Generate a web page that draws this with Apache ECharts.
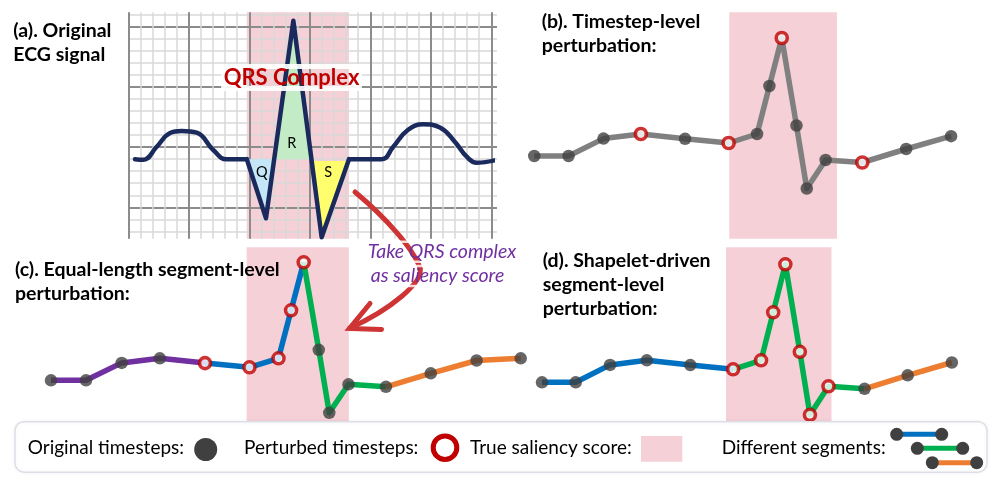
<!DOCTYPE html>
<html><head><meta charset="utf-8">
<script src="https://cdn.jsdelivr.net/npm/echarts@6/dist/echarts.min.js"></script>
<style>html,body{margin:0;padding:0;background:#fff}#main{width:997px;height:479px}</style>
</head><body><div id="main"></div>
<script>
// ---------- data ----------
// shared timestep positions and signal values of the toy series (panels b, c, d)
const timeSteps = [0, 1, 2.02, 3.11, 4.4, 5.67, 6.5, 6.86, 7.22, 7.65, 7.95, 8.5, 9.57, 10.85, 12.16, 13.42];
const signal    = [0, 0, 1.74, 2.2, 1.72, 1.3, 2.2, 7.0, 11.8, 3.05, -3.25, -0.4, -0.65, 0.7, 1.98, 2.2];

// perturbed timestep indices
const perturbedB = [3, 5, 8, 12];
const perturbedC = [4, 5, 6, 7, 8];
const perturbedD = [5, 6, 7, 8, 9, 10, 11];

// segments (start index, end index)
const segmentsB = [[0, 14]];
const segmentsC = [[0, 4], [4, 8], [8, 12], [12, 15]];
const segmentsD = [[0, 5], [5, 12], [12, 14]];

// true saliency (QRS) window, in timestep units
const saliencyB = [5.69, 8.83];
const saliencyC = [5.59, 8.51];
const saliencyD = [5.46, 8.59];

// ECG signal for panel (a), in ECG-paper small-box units
const ecgP   = [[0.55, 4.0], [1.24, 3.95], [2.35, 5.03], [3.45, 6.17], [4.41, 6.34], [5.65, 6.2], [7.02, 4.76], [8.13, 3.99], [9.79, 4.0]];
const ecgQRS = [[9.79, 4.0], [11.38, -0.91], [13.64, 15.5], [15.98, -2.49], [18.24, 4.0]];
const ecgT   = [[18.24, 4.0], [20.94, 4.0], [21.9, 5.03], [23.1, 6.42], [24.38, 6.89], [25.76, 6.63], [27.0, 5.42], [27.97, 4.2], [28.8, 3.7], [30.64, 4.0]];
const qWave = [[9.79, 4.0], [11.38, -0.91], [12.06, 4.0]];
const rWave = [[12.06, 4.0], [13.64, 15.5], [15.14, 4.0]];
const sWave = [[15.16, 3.85], [15.98, -2.49], [18.19, 3.85]];
const saliencyA = [9.79, 18.24];

// ---------- styles ----------
const PINK = '#F5D0D7';
const DARK = '#404040';
const RED = '#C00000';
const SEG_COLORS = {purple: '#7030A0', blue: '#0070C0', green: '#00B050', orange: '#ED7D31', gray: '#808080'};
const segColorsB = ['gray'];
const segColorsC = ['purple', 'blue', 'green', 'orange'];
const segColorsD = ['blue', 'green', 'orange'];
const FONT = 'Lato, "Open Sans", sans-serif';
const MINOR = '#D9D9D9', MAJOR = '#8C8C8C';

const PX_T = 35, PX_S = 10;
const panels = [
  {key: 'b', x0: 535, y0: 156, xMin: -1, xMax: 13.5, yMin: -8.27, yMax: 14.37, n: 15, pert: perturbedB, segs: segmentsB, cols: segColorsB, sal: saliencyB},
  {key: 'c', x0: 51, y0: 380.3, xMin: -1, xMax: 14, yMin: -4.5, yMax: 13.3, n: 16, pert: perturbedC, segs: segmentsC, cols: segColorsC, sal: saliencyC},
  {key: 'd', x0: 543.3, y0: 382.3, xMin: -1, xMax: 13.5, yMin: -4.5, yMax: 13.5, n: 15, pert: perturbedD, segs: segmentsD, cols: segColorsD, sal: saliencyD}
];

// ---------- paper (panel a) ----------
const paper = {left: 128.3, top: 12.3, right: 497, bottom: 238.7};
const grids = [
  {left: paper.left, top: paper.top, width: 363, height: paper.bottom - paper.top},   // 0: verticals + ECG
  {left: paper.left, top: 14.7, width: paper.right - paper.left, height: 216.7},       // 1: horizontal minor
  {left: paper.left, top: 26.7, width: paper.right - paper.left, height: 180.6}        // 2: horizontal major
];
const hidden = {axisLine: {show: false}, axisTick: {show: false}, axisLabel: {show: false}};
const xAxes = [
  Object.assign({type: 'value', gridIndex: 0, min: 0, max: 30, interval: 1, position: 'bottom', z: 1,
    splitLine: {show: true, lineStyle: {color: MINOR, width: 1.5}}}, hidden),
  Object.assign({type: 'value', gridIndex: 0, min: 0, max: 30, interval: 5, position: 'top', z: 1,
    splitLine: {show: true, lineStyle: {color: MAJOR, width: 2}}}, hidden),
  {type: 'value', gridIndex: 1, min: 0, max: 1, show: false},
  {type: 'value', gridIndex: 2, min: 0, max: 1, show: false}
];
const yAxes = [
  {type: 'value', gridIndex: 0, min: -2.61, max: 16.2, show: false},
  Object.assign({type: 'value', gridIndex: 1, min: -2, max: 16, interval: 1, z: 1,
    splitLine: {show: true, lineStyle: {color: MINOR, width: 1.5}}}, hidden),
  Object.assign({type: 'value', gridIndex: 2, min: 0, max: 15, interval: 5, z: 1,
    splitLine: {show: true, lineStyle: {color: MAJOR, width: 2}}}, hidden)
];

function bandRender(params, api) {
  const x1 = api.coord([api.value(0), 0])[0];
  const x2 = api.coord([api.value(1), 0])[0];
  const cs = params.coordSys;
  return {type: 'rect', shape: {x: x1, y: cs.y, width: x2 - x1, height: cs.height}, style: {fill: PINK}};
}

const series = [];
series.push({type: 'custom', xAxisIndex: 0, yAxisIndex: 0, z: 0, silent: true,
  renderItem: bandRender, data: [saliencyA], encode: {x: [0, 1]}});

const waveFills = [[qWave, '#C4E6F6'], [rWave, '#C3EBC5'], [sWave, '#FFFF6E']];
series.push({type: 'custom', xAxisIndex: 0, yAxisIndex: 0, z: 2, silent: true,
  data: waveFills.map((w, i) => [i]),
  renderItem: function (params, api) {
    const w = waveFills[api.value(0)];
    return {type: 'polygon', shape: {points: w[0].map(p => api.coord(p))}, style: {fill: w[1]}};
  }});
const ecgLine = {color: '#1B2A5C', width: 4.5, cap: 'round', join: 'round'};
series.push({type: 'line', xAxisIndex: 0, yAxisIndex: 0, z: 3, data: ecgP, smooth: 0.45, showSymbol: false, clip: false, lineStyle: ecgLine, silent: true});
series.push({type: 'line', xAxisIndex: 0, yAxisIndex: 0, z: 3, data: ecgQRS, smooth: false, showSymbol: false, clip: false, lineStyle: ecgLine, silent: true});
series.push({type: 'line', xAxisIndex: 0, yAxisIndex: 0, z: 3, data: ecgT, smooth: 0.45, showSymbol: false, clip: false, lineStyle: ecgLine, silent: true});

// ---------- panels b, c, d ----------
panels.forEach((p) => {
  const gi = grids.length;
  grids.push({left: p.x0 + p.xMin * PX_T, top: p.y0 - p.yMax * PX_S,
              width: (p.xMax - p.xMin) * PX_T, height: (p.yMax - p.yMin) * PX_S});
  const xi = xAxes.length, yi = yAxes.length;
  xAxes.push({type: 'value', gridIndex: gi, min: p.xMin, max: p.xMax, show: false});
  yAxes.push({type: 'value', gridIndex: gi, min: p.yMin, max: p.yMax, show: false});
  const pts = timeSteps.slice(0, p.n).map((t, i) => [t, signal[i]]);
  series.push({type: 'custom', xAxisIndex: xi, yAxisIndex: yi, z: 0, silent: true,
    renderItem: bandRender, data: [p.sal], encode: {x: [0, 1]}});
  p.segs.forEach((s, k) => {
    series.push({type: 'line', xAxisIndex: xi, yAxisIndex: yi, z: 2, silent: true, clip: false,
      data: pts.slice(s[0], s[1] + 1), showSymbol: false,
      lineStyle: {color: SEG_COLORS[p.cols[k]], width: 5.5, cap: 'butt', join: 'round'}});
  });
  series.push({type: 'scatter', xAxisIndex: xi, yAxisIndex: yi, z: 4, silent: true, clip: false,
    data: pts.filter((d, i) => p.pert.indexOf(i) < 0), symbol: 'circle', symbolSize: 12.5,
    itemStyle: {color: DARK}});
  series.push({type: 'scatter', xAxisIndex: xi, yAxisIndex: yi, z: 4, silent: true, clip: false,
    data: pts.filter((d, i) => p.pert.indexOf(i) >= 0), symbol: 'circle', symbolSize: 11,
    itemStyle: {color: '#fff', borderColor: RED, borderWidth: 3.6}});
});

// ---------- text & decorations ----------
function txt(text, x, y, size, opts) {
  opts = opts || {};
  return {type: 'text', x: x, y: y, z: opts.z || 60, zlevel: 1,
    style: Object.assign({text: text, font: (opts.style || '') + ' ' + (opts.weight || 'normal') + ' ' + size + 'px ' + FONT,
      fill: opts.color || '#000', textAlign: opts.align || 'left', textVerticalAlign: 'middle'}, opts.extra || {})};
}
const TB = {weight: 'bold'};
const ARROW = '#CF3434';
const LEG = 19;
const elements = [
  txt('(a). Original', 13.3, 30.8, 19.5, TB),
  txt('ECG signal', 13.3, 54.5, 19.5, TB),
  txt('(b). Timestep-level', 541.7, 21.7, 19.5, TB),
  txt('perturbation:', 541.7, 45.5, 19.5, TB),
  txt('(c). Equal-length segment-level', 15, 269.3, 19.5, TB),
  txt('perturbation:', 15, 293.3, 19.5, TB),
  txt('(d). Shapelet-driven', 542.7, 260.7, 19.5, TB),
  txt('segment-level', 542.7, 284.5, 19.5, TB),
  txt('perturbation:', 542.7, 308.3, 19.5, TB),
  txt('QRS Complex', 291.5, 77.5, 22, {weight: 'bold', color: RED, align: 'center',
    extra: {textBorderColor: 'rgba(255,255,255,0.92)', textBorderWidth: 5}}),
  txt('Q', 261.7, 172.7, 14.5, {align: 'center'}),
  txt('R', 291.7, 143.3, 14.5, {align: 'center'}),
  txt('S', 328.3, 172.7, 14.5, {align: 'center'}),
  // arrow
  {type: 'bezierCurve', z: 50, zlevel: 1, shape: {x1: 355, y1: 192, cpx1: 385, cpy1: 217, cpx2: 413, cpy2: 248, x2: 420, y2: 268},
    style: {fill: null, stroke: ARROW, lineWidth: 5, lineCap: 'round'}},
  {type: 'bezierCurve', z: 50, zlevel: 1, shape: {x1: 420, y1: 268, cpx1: 424, cpy1: 282, cpx2: 390, cpy2: 310, x2: 350, y2: 328},
    style: {fill: null, stroke: ARROW, lineWidth: 5, lineCap: 'round'}},
  {type: 'polyline', z: 50, zlevel: 1, shape: {points: [[370, 303.5], [349.5, 328.5], [381.5, 329.5]]},
    style: {fill: null, stroke: ARROW, lineWidth: 5, lineCap: 'round', lineJoin: 'miter'}},
  txt('Take QRS complex', 367.7, 251.7, 19.5, {style: 'italic', color: '#7030A0',
    extra: {textBorderColor: 'rgba(255,255,255,0.8)', textBorderWidth: 2.5}}),
  txt('as saliency score', 370.7, 276, 19.5, {style: 'italic', color: '#7030A0',
    extra: {textBorderColor: 'rgba(255,255,255,0.8)', textBorderWidth: 2.5}}),
  // legend box
  {type: 'rect', z: 100, zlevel: 1, shape: {x: 15, y: 421.7, width: 972, height: 50.5, r: 9},
    style: {fill: '#fff', stroke: '#DCDFE7', lineWidth: 1.5, shadowBlur: 4, shadowColor: 'rgba(0,0,0,0.06)'}},
  txt('Original timesteps:', 27.7, 448.3, LEG, {z: 101}),
  {type: 'circle', z: 101, zlevel: 1, shape: {cx: 205.7, cy: 449.5, r: 11.5}, style: {fill: DARK}},
  txt('Perturbed timesteps:', 244, 448.3, LEG, {z: 101}),
  {type: 'circle', z: 101, zlevel: 1, shape: {cx: 445, cy: 447.7, r: 11.8}, style: {fill: '#fff', stroke: RED, lineWidth: 5}},
  txt('True saliency score:', 470, 448.3, LEG, {z: 101}),
  {type: 'rect', z: 101, zlevel: 1, shape: {x: 641, y: 436, width: 41.3, height: 25.7}, style: {fill: PINK}},
  txt('Different segments:', 721.7, 448.3, LEG, {z: 101})
];
const legSegs = [[896.7, 941.7, 434.3, SEG_COLORS.blue], [917.3, 962.7, 448.3, SEG_COLORS.green], [932.3, 976.7, 462.7, SEG_COLORS.orange]];
legSegs.forEach(s => {
  elements.push({type: 'line', z: 101, zlevel: 1, shape: {x1: s[0], y1: s[2], x2: s[1], y2: s[2]}, style: {stroke: s[3], lineWidth: 5}});
  elements.push({type: 'circle', z: 102, zlevel: 1, shape: {cx: s[0], cy: s[2], r: 6.5}, style: {fill: DARK}});
  elements.push({type: 'circle', z: 102, zlevel: 1, shape: {cx: s[1], cy: s[2], r: 6.5}, style: {fill: DARK}});
});

const chart = echarts.init(document.getElementById('main'), null, {renderer: 'canvas', width: 997, height: 479});
chart.setOption({
  animation: false,
  backgroundColor: '#fff',
  grid: grids,
  xAxis: xAxes,
  yAxis: yAxes,
  series: series,
  graphic: {elements: elements}
});
</script>
</body></html>
